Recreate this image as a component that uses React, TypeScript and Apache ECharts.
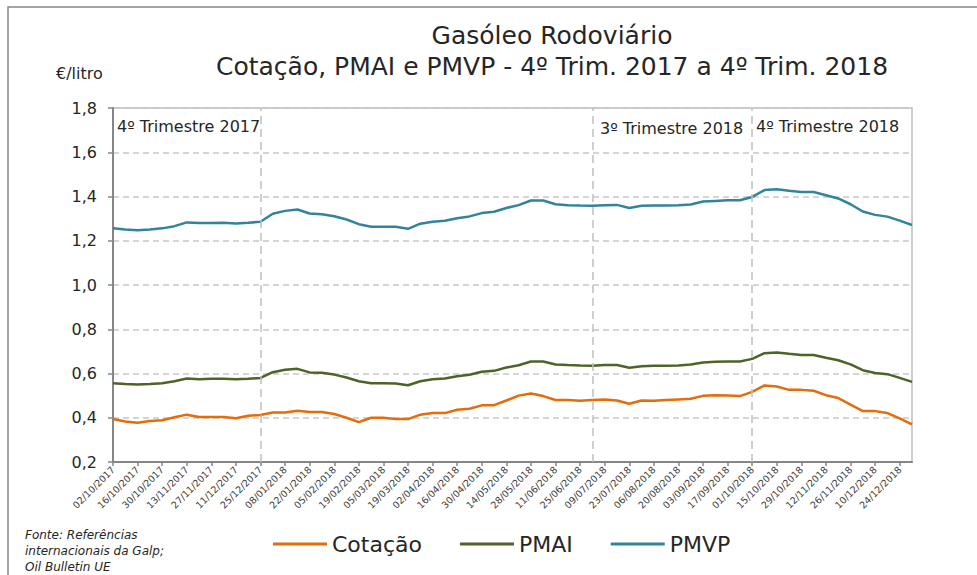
import React, { useEffect, useRef } from "react";
import * as echarts from "echarts";

const categories = [
  "02/10/2017","09/10/2017","16/10/2017","23/10/2017","30/10/2017","06/11/2017","13/11/2017","20/11/2017","27/11/2017","04/12/2017","11/12/2017","18/12/2017","25/12/2017",
  "01/01/2018","08/01/2018","15/01/2018","22/01/2018","29/01/2018","05/02/2018","12/02/2018","19/02/2018","26/02/2018","05/03/2018","12/03/2018","19/03/2018","26/03/2018",
  "02/04/2018","09/04/2018","16/04/2018","23/04/2018","30/04/2018","07/05/2018","14/05/2018","21/05/2018","28/05/2018","04/06/2018","11/06/2018","18/06/2018","25/06/2018",
  "02/07/2018","09/07/2018","16/07/2018","23/07/2018","30/07/2018","06/08/2018","13/08/2018","20/08/2018","27/08/2018","03/09/2018","10/09/2018","17/09/2018","24/09/2018",
  "01/10/2018","08/10/2018","15/10/2018","22/10/2018","29/10/2018","05/11/2018","12/11/2018","19/11/2018","26/11/2018","03/12/2018","10/12/2018","17/12/2018","24/12/2018","31/12/2018"
];

const cotacao = [
  0.394,0.383,0.377,0.385,0.389,0.402,0.414,0.403,0.403,0.403,0.398,0.409,0.412,
  0.424,0.424,0.432,0.426,0.426,0.417,0.400,0.380,0.400,0.400,0.394,0.394,0.414,
  0.421,0.421,0.436,0.441,0.456,0.457,0.478,0.500,0.510,0.498,0.480,0.480,0.477,
  0.480,0.483,0.478,0.463,0.478,0.477,0.480,0.483,0.486,0.499,0.502,0.501,0.498,
  0.517,0.546,0.541,0.526,0.526,0.522,0.502,0.489,0.459,0.430,0.430,0.421,0.397,0.370
];

const pmai = [
  0.556,0.552,0.550,0.552,0.556,0.565,0.577,0.574,0.576,0.576,0.574,0.576,0.580,
  0.606,0.617,0.621,0.605,0.603,0.595,0.582,0.565,0.556,0.556,0.555,0.547,0.565,
  0.574,0.577,0.588,0.594,0.608,0.612,0.627,0.637,0.654,0.654,0.641,0.638,0.636,
  0.635,0.638,0.638,0.626,0.633,0.635,0.635,0.636,0.641,0.650,0.653,0.654,0.654,
  0.666,0.692,0.695,0.689,0.684,0.684,0.671,0.660,0.641,0.615,0.602,0.597,0.580,0.562
];

const pmvp = [
  1.256,1.251,1.248,1.251,1.256,1.266,1.283,1.280,1.280,1.281,1.278,1.281,1.286,
  1.322,1.335,1.341,1.323,1.320,1.311,1.296,1.275,1.263,1.263,1.263,1.254,1.277,
  1.286,1.290,1.302,1.310,1.325,1.331,1.348,1.361,1.382,1.382,1.365,1.361,1.359,
  1.358,1.361,1.362,1.348,1.358,1.359,1.359,1.361,1.364,1.377,1.380,1.383,1.383,
  1.398,1.429,1.433,1.426,1.420,1.420,1.406,1.391,1.365,1.332,1.317,1.309,1.291,1.271
];

const quarterLines = ["25/12/2017", "02/07/2018", "01/10/2018"];
const yTicks = { min: 0.2, max: 1.8, interval: 0.2 };

const FONT = "'DejaVu Sans', sans-serif";
const TXT = "#262626";

export default function App() {
  const ref = useRef<HTMLDivElement>(null);
  useEffect(() => {
    if (!ref.current) return;
    const chart = echarts.init(ref.current, null, { renderer: "svg" });
    const lineSeries = (name: string, data: number[], color: string) => ({
      name,
      type: "line",
      data,
      symbol: "none",
      lineStyle: { color, width: 2.5 },
      itemStyle: { color },
    });
    chart.setOption({
      animation: false,
      textStyle: { fontFamily: FONT },
      title: {
        text: "Gasóleo Rodoviário\nCotação, PMAI e PMVP - 4º Trim. 2017 a 4º Trim. 2018",
        left: 547,
        textAlign: "center",
        top: 15,
        textStyle: { fontFamily: FONT, fontSize: 25, fontWeight: "normal", color: TXT, lineHeight: 31 },
      },
      grid: { left: 113, right: 65, top: 108, bottom: 113, show: true, borderColor: "#bfbfbf", borderWidth: 1.5 },
      legend: {
        left: 273,
        top: 533,
        padding: 0,
        itemWidth: 54,
        itemHeight: 3,
        itemGap: 38,
        icon: "rect",
        textStyle: { fontFamily: FONT, fontSize: 22, color: TXT },
        data: ["Cotação", "PMAI", "PMVP"],
      },
      xAxis: {
        type: "category",
        data: categories,
        boundaryGap: false,
        axisLine: { lineStyle: { color: "#868686", width: 2 } },
        axisTick: { show: true, interval: 1, length: 4, lineStyle: { color: "#868686", width: 1.5 } },
        axisLabel: { interval: 1, rotate: 45, fontSize: 9.5, color: "#404040", margin: 6, fontFamily: FONT },
        splitLine: { show: false },
      },
      yAxis: {
        type: "value",
        min: yTicks.min,
        max: yTicks.max,
        interval: yTicks.interval,
        axisLine: { show: true, lineStyle: { color: "#868686", width: 2 } },
        axisTick: { show: true, length: 5, lineStyle: { color: "#868686", width: 1.5 } },
        axisLabel: {
          fontSize: 16,
          color: TXT,
          margin: 16,
          fontFamily: FONT,
          formatter: (v: number) => v.toFixed(1).replace(".", ","),
        },
        splitLine: { lineStyle: { color: "#c8c8c8", type: [6, 4], width: 1.5 } },
      },
      series: [
        {
          ...lineSeries("Cotação", cotacao, "#e46c0a"),
          markLine: {
            silent: true,
            symbol: "none",
            label: { show: false },
            lineStyle: { color: "#c0c0c0", type: [8, 5], width: 1.5 },
            data: quarterLines.map((d) => ({ xAxis: d })),
          },
        },
        lineSeries("PMAI", pmai, "#4f6228"),
        lineSeries("PMVP", pmvp, "#31849b"),
      ],
      graphic: [
        { type: "rect", shape: { x: 8, y: 7, width: 1100, height: 700 }, style: { fill: "none", stroke: "#868686", lineWidth: 1.5 }, silent: true },
        { type: "text", left: 56, top: 65, style: { text: "€/litro", fontFamily: FONT, fontSize: 16, fill: TXT } },
        { type: "text", left: 117, top: 118, style: { text: "4º Trimestre 2017", fontFamily: FONT, fontSize: 16, fill: TXT } },
        { type: "text", left: 600, top: 120, style: { text: "3º Trimestre 2018", fontFamily: FONT, fontSize: 16, fill: TXT } },
        { type: "text", left: 756, top: 118, style: { text: "4º Trimestre 2018", fontFamily: FONT, fontSize: 16, fill: TXT } },
        {
          type: "text",
          left: 25,
          top: 527,
          style: {
            text: "Fonte: Referências\ninternacionais da Galp;\nOil Bulletin UE",
            fontFamily: FONT,
            fontSize: 12,
            fontStyle: "italic",
            lineHeight: 16,
            fill: TXT,
          },
        },
      ],
    });
    return () => chart.dispose();
  }, []);
  return <div ref={ref} style={{ width: 977, height: 575, position: "absolute", left: 0, top: 0 }} />;
}
